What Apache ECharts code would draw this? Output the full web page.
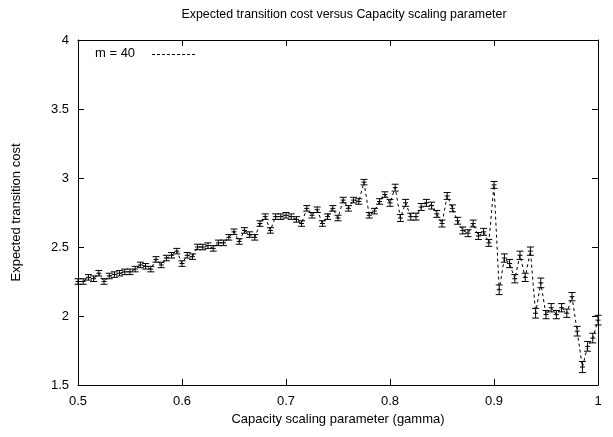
<!DOCTYPE html>
<html>
<head>
<meta charset="utf-8">
<script src="https://cdn.jsdelivr.net/npm/echarts@6/dist/echarts.min.js"></script>
<style>
  html, body { margin: 0; padding: 0; background: #fff; }
  #chart { width: 613px; height: 437px; }
</style>
</head>
<body>
<div id="chart"></div>
<script>
// gamma values, step 0.005
const gammas = [
  0.5, 0.505, 0.51, 0.515, 0.52, 0.525, 0.53, 0.535, 0.54, 0.545,
  0.55, 0.555, 0.56, 0.565, 0.57, 0.575, 0.58, 0.585, 0.59, 0.595,
  0.6, 0.605, 0.61, 0.615, 0.62, 0.625, 0.63, 0.635, 0.64, 0.645,
  0.65, 0.655, 0.66, 0.665, 0.67, 0.675, 0.68, 0.685, 0.69, 0.695,
  0.7, 0.705, 0.71, 0.715, 0.72, 0.725, 0.73, 0.735, 0.74, 0.745,
  0.75, 0.755, 0.76, 0.765, 0.77, 0.775, 0.78, 0.785, 0.79, 0.795,
  0.8, 0.805, 0.81, 0.815, 0.82, 0.825, 0.83, 0.835, 0.84, 0.845,
  0.85, 0.855, 0.86, 0.865, 0.87, 0.875, 0.88, 0.885, 0.89, 0.895,
  0.9, 0.905, 0.91, 0.915, 0.92, 0.925, 0.93, 0.935, 0.94, 0.945,
  0.95, 0.955, 0.96, 0.965, 0.97, 0.975, 0.98, 0.985, 0.99, 0.995, 1.0
];
// expected transition cost, m = 40
const costs = [
  2.25, 2.25, 2.28, 2.27, 2.31, 2.25, 2.29, 2.30, 2.31, 2.32,
  2.32, 2.34, 2.37, 2.36, 2.34, 2.41, 2.37, 2.42, 2.44, 2.47,
  2.38, 2.44, 2.43, 2.50, 2.50, 2.51, 2.49, 2.53, 2.53, 2.57,
  2.61, 2.54, 2.62, 2.59, 2.57, 2.67, 2.72, 2.62, 2.72, 2.72,
  2.73, 2.72, 2.70, 2.67, 2.78, 2.73, 2.77, 2.67, 2.72, 2.78,
  2.71, 2.84, 2.78, 2.84, 2.83, 2.97, 2.73, 2.76, 2.83, 2.88,
  2.82, 2.93, 2.71, 2.82, 2.72, 2.72, 2.79, 2.82, 2.80, 2.74,
  2.67, 2.87, 2.78, 2.69, 2.62, 2.60, 2.67, 2.58, 2.61, 2.53,
  2.95, 2.19, 2.42, 2.38, 2.27, 2.44, 2.28, 2.47, 2.02, 2.24,
  2.01, 2.06, 2.01, 2.06, 2.02, 2.14, 1.89, 1.63, 1.78, 1.84, 1.97
];
// half height of the error bars
const errors = [
  0.02, 0.02, 0.02, 0.02, 0.02, 0.02, 0.02, 0.02, 0.02, 0.02,
  0.02, 0.02, 0.02, 0.02, 0.02, 0.02, 0.02, 0.02, 0.02, 0.02,
  0.02, 0.02, 0.02, 0.02, 0.02, 0.02, 0.02, 0.02, 0.02, 0.02,
  0.02, 0.02, 0.02, 0.02, 0.02, 0.02, 0.02, 0.02, 0.02, 0.02,
  0.02, 0.02, 0.02, 0.02, 0.02, 0.02, 0.02, 0.02, 0.02, 0.02,
  0.02, 0.02, 0.02, 0.02, 0.02, 0.02, 0.02, 0.02, 0.02, 0.02,
  0.025, 0.025, 0.025, 0.025, 0.025, 0.025, 0.025, 0.025, 0.025, 0.025,
  0.025, 0.025, 0.025, 0.025, 0.025, 0.025, 0.025, 0.025, 0.025, 0.025,
  0.025, 0.035, 0.03, 0.03, 0.03, 0.03, 0.03, 0.03, 0.035, 0.035,
  0.03, 0.03, 0.03, 0.03, 0.03, 0.03, 0.035, 0.04, 0.035, 0.035, 0.035
];
const xTicks = ['0.5', '0.6', '0.7', '0.8', '0.9', '1'];
const yTicks = ['1.5', '2', '2.5', '3', '3.5', '4'];
const seriesName = 'm = 40';

const FONT = 'Liberation Sans';
const chart = echarts.init(document.getElementById('chart'), null, { renderer: 'canvas' });

const points = gammas.map((g, i) => [g, costs[i]]);
const bars = gammas.map((g, i) => [g, costs[i] - errors[i], costs[i] + errors[i], costs[i]]);

function fmtX(v) {
  const i = Math.round((v - 0.5) / 0.1);
  return xTicks[i] !== undefined ? xTicks[i] : '';
}
function fmtY(v) {
  const i = Math.round((v - 1.5) / 0.5);
  return yTicks[i] !== undefined ? yTicks[i] : '';
}

const axisCommon = {
  type: 'value',
  axisLine: { show: true, lineStyle: { color: '#000', width: 1 } },
  axisTick: { show: true, inside: true, length: 6, lineStyle: { color: '#000' } },
  splitLine: { show: false },
  nameTextStyle: { color: '#000', fontFamily: FONT, fontSize: 13 }
};

const option = {
  backgroundColor: '#fff',
  animation: false,
  title: {
    text: 'Expected transition cost versus Capacity scaling parameter',
    left: 339,
    textAlign: 'center',
    top: 4,
    textStyle: { color: '#000', fontFamily: FONT, fontSize: 12.4, fontWeight: 'normal' }
  },
  // gnuplot style key: label then line sample
  graphic: [
    {
      type: 'text',
      left: 95,
      top: 47,
      style: { text: seriesName, fill: '#000', font: '13px "Liberation Sans"' }
    },
    {
      type: 'line',
      shape: { x1: 152, y1: 54.5, x2: 195, y2: 54.5 },
      style: { stroke: '#000', lineWidth: 1, lineDash: [3, 2] }
    }
  ],
  grid: { left: 78, right: 15, top: 40, bottom: 52 },
  xAxis: [
    Object.assign({}, axisCommon, {
      min: 0.5, max: 1, interval: 0.1,
      name: 'Capacity scaling parameter (gamma)',
      nameLocation: 'middle',
      nameGap: 28,
      axisLabel: { color: '#000', fontFamily: FONT, fontSize: 13, margin: 10, formatter: fmtX }
    }),
    Object.assign({}, axisCommon, {
      min: 0.5, max: 1, interval: 0.1,
      position: 'top',
      axisLabel: { show: false }
    })
  ],
  yAxis: [
    Object.assign({}, axisCommon, {
      min: 1.5, max: 4, interval: 0.5,
      name: 'Expected transition cost',
      nameLocation: 'middle',
      nameGap: 55,
      axisLabel: { color: '#000', fontFamily: FONT, fontSize: 13, margin: 9, formatter: fmtY }
    }),
    Object.assign({}, axisCommon, {
      min: 1.5, max: 4, interval: 0.5,
      position: 'right',
      axisLabel: { show: false }
    })
  ],
  series: [
    {
      name: seriesName,
      type: 'line',
      data: points,
      showSymbol: false,
      symbol: 'none',
      lineStyle: { color: '#000', width: 1, type: [3, 3] },
      itemStyle: { color: '#000' }
    },
    {
      name: 'errors',
      type: 'custom',
      data: bars,
      renderItem: function (params, api) {
        const x = api.value(0);
        const lo = api.coord([x, api.value(1)]);
        const hi = api.coord([x, api.value(2)]);
        const mid = api.coord([x, api.value(3)]);
        const cap = 3.5;
        const style = { stroke: '#000', lineWidth: 1 };
        return {
          type: 'group',
          children: [
            { type: 'line', shape: { x1: hi[0], y1: hi[1], x2: lo[0], y2: lo[1] }, style: style },
            { type: 'line', shape: { x1: hi[0] - cap, y1: hi[1], x2: hi[0] + cap, y2: hi[1] }, style: style },
            { type: 'line', shape: { x1: lo[0] - cap, y1: lo[1], x2: lo[0] + cap, y2: lo[1] }, style: style },
            { type: 'line', shape: { x1: mid[0] - 2.5, y1: mid[1], x2: mid[0] + 2.5, y2: mid[1] }, style: style }
          ]
        };
      },
      z: 3
    }
  ]
};

chart.setOption(option);
</script>
</body>
</html>
